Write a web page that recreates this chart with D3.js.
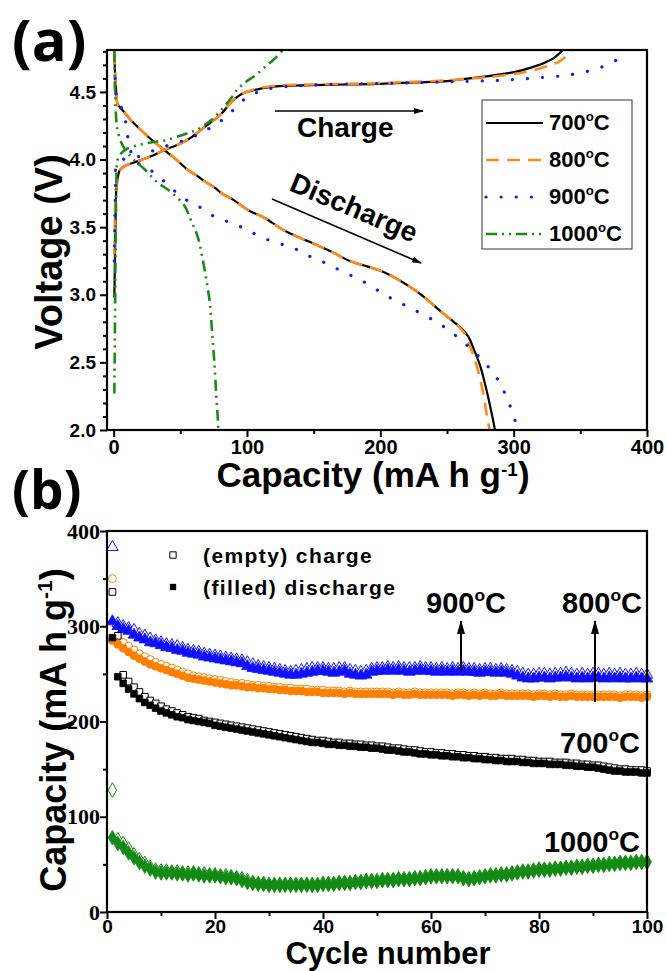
<!DOCTYPE html>
<html>
<head>
<meta charset="utf-8">
<script src="https://cdn.jsdelivr.net/npm/d3@7"></script>
<style>
body { margin: 0; background: #fff; }
svg { display: block; }
</style>
</head>
<body>
<svg></svg>
<script>
// SVG
var width = 667;
var height = 971;
var sans = "'Liberation Sans', Arial, sans-serif";
var serif = "'Liberation Serif', 'Times New Roman', serif";

// ---------- Panel (a) data: [capacity, voltage] ----------
var temps = ["700", "800", "900", "1000"];

var charge700 = [[0.5,2.98],[1,3.3],[1.5,3.6],[2,3.78],[3,3.86],[4.5,3.92],[8,3.95],[16,3.98],[27,4.02],[38,4.07],[48,4.11],[56,4.15],[63,4.2],[68,4.24],[75,4.29],[81,4.34],[86,4.4],[91,4.45],[97,4.49],[104,4.51],[113,4.53],[127,4.545],[150,4.55],[175,4.555],[200,4.56],[225,4.57],[250,4.58],[262,4.595],[275,4.61],[290,4.63],[302,4.65],[313,4.68],[322,4.71],[330,4.75],[338,4.82]];
var charge800 = [[0.5,3.3],[1,3.6],[1.5,3.75],[2.5,3.85],[4,3.91],[8,3.95],[16,3.98],[27,4.02],[38,4.07],[48,4.11],[56,4.15],[63,4.2],[68,4.24],[75,4.29],[81,4.34],[86,4.4],[91,4.45],[97,4.49],[104,4.515],[113,4.535],[127,4.55],[150,4.555],[175,4.56],[200,4.565],[225,4.575],[250,4.585],[262,4.595],[275,4.605],[290,4.62],[305,4.64],[322,4.68],[335,4.73],[345,4.82]];
var charge900 = [[0.5,3.25],[1,3.6],[1.5,3.85],[2,3.96],[5,3.99],[10,4.01],[18,4.02],[26,4.05],[33,4.08],[46,4.12],[58,4.16],[68,4.21],[75,4.25],[81,4.29],[87,4.34],[93,4.4],[100,4.46],[106,4.49],[115,4.52],[130,4.54],[160,4.555],[212,4.565],[250,4.575],[287,4.585],[312,4.6],[337,4.62],[350,4.64],[362,4.67],[370,4.7],[378,4.74]];
var charge1000 = [[0.5,2.27],[1,2.8],[1.5,3.4],[2,3.8],[3,4.0],[6,4.05],[10,4.08],[20,4.11],[30,4.13],[38,4.14],[51,4.18],[60,4.21],[66,4.24],[73,4.29],[80,4.36],[87,4.44],[93,4.52],[100,4.58],[106,4.62],[113,4.68],[120,4.74],[128,4.82]];

var discharge700 = [[0.5,4.8],[1,4.65],[1.8,4.52],[3,4.41],[8,4.35],[13,4.29],[18,4.24],[28,4.15],[38,4.07],[47,4.0],[56,3.92],[61,3.89],[68,3.84],[76,3.79],[81,3.75],[90,3.7],[102,3.62],[113,3.57],[127,3.48],[140,3.42],[152,3.37],[165,3.31],[177,3.25],[190,3.21],[202,3.17],[212,3.12],[222,3.06],[232,2.99],[245,2.88],[255,2.8],[262,2.74],[266,2.69],[270,2.6],[275,2.47],[280,2.28],[284,2.1],[286,2.0]];
var discharge800 = [[0.5,4.8],[1,4.65],[1.8,4.52],[3,4.41],[8,4.35],[13,4.29],[18,4.24],[28,4.15],[38,4.07],[47,4.0],[56,3.92],[61,3.89],[68,3.84],[76,3.79],[81,3.75],[90,3.7],[102,3.62],[113,3.57],[127,3.48],[140,3.42],[152,3.37],[165,3.31],[177,3.25],[190,3.21],[202,3.17],[212,3.12],[222,3.06],[232,2.99],[245,2.88],[255,2.8],[262,2.73],[268,2.6],[273,2.45],[277,2.28],[280,2.1],[282,2.0]];
var discharge900 = [[1,4.6],[2,4.47],[5,4.4],[7,4.36],[9,4.28],[10,4.2],[12,4.1],[15,4.0],[22,3.95],[31,3.9],[42,3.8],[53,3.71],[66,3.64],[77,3.57],[89,3.53],[100,3.48],[112,3.42],[124,3.38],[136,3.34],[148,3.28],[160,3.23],[172,3.17],[185,3.11],[207,2.98],[225,2.89],[242,2.8],[255,2.71],[267,2.61],[278,2.5],[287,2.39],[293,2.28],[298,2.16],[302,2.04],[303,2.0]];
var discharge1000 = [[0.5,4.8],[0.8,4.6],[1.2,4.45],[2,4.29],[3,4.21],[6,4.12],[9,4.07],[15,4.0],[23,3.93],[33,3.83],[43,3.76],[53,3.66],[58,3.55],[63,3.43],[67,3.25],[70,3.08],[72,2.95],[74,2.7],[75.5,2.5],[77,2.25],[78,2.1],[78.5,2.0]];

var voltTicks = [2.0, 2.5, 3.0, 3.5, 4.0, 4.5];
var capTicks = [0, 100, 200, 300, 400];

// ---------- Panel (b) data: capacity per cycle 1..100 ----------
var cycleTicks = [0, 20, 40, 60, 80, 100];
var cycCapTicks = [0, 100, 200, 300, 400];

var dis900 = [305,300,297,295,291,288,286,283,282,280, 278,277,275,274,272,271,270,268,267,266, 265,264,263,262,261,258,256,255,254,253,
  252,251,250,249,249,250,251,252,253,253, 252,251,252,253,250,249,248,249,252,253, 253,254,253,254,253,252,253,254,253,253,
  252,253,252,253,252,253,252,252,251,252, 252,251,252,251,250,248,246,245,245,246, 246,245,246,246,247,246,245,246,245,246,
  246,245,246,245,246,245,245,246,245,245];
var chg900 = [383,303,300,298,296,292,290,287,285,283, 281,280,279,277,275,274,273,271,270,269, 268,267,266,265,264,262,260,258,257,256,
  255,254,253,252,253,254,255,256,256,256, 255,255,256,256,254,253,252,253,255,256, 256,257,256,257,256,256,256,257,256,256,
  255,256,255,256,255,256,255,255,254,255, 255,254,255,254,253,252,250,249,249,250, 250,249,250,250,251,250,249,250,249,250,
  250,249,250,249,250,249,249,250,249,249];
var dis800 = [285,281,277,273,269,266,263,260,258,256, 254,252,250,248,246,245,244,243,242,241, 240,239,238,238,237,236,236,235,235,234,
  234,233,233,232,232,232,231,231,231,230, 230,230,230,229,230,229,229,229,229,229, 229,229,228,229,228,228,229,228,228,228,
  228,228,228,227,228,228,227,228,227,228, 227,227,228,227,227,227,227,227,226,227, 227,226,227,226,226,227,226,226,226,226,
  226,226,226,226,225,226,226,226,225,226];
var chg800 = [350,287,283,279,275,271,268,265,262,260, 258,256,254,252,250,248,247,246,245,244, 243,242,241,240,240,239,238,238,237,237,
  236,236,235,235,234,234,234,233,233,233, 232,232,232,231,232,231,231,231,231,231, 231,231,230,231,230,230,231,230,230,230,
  230,230,230,229,230,230,229,230,229,230, 229,229,230,229,229,229,229,229,228,229, 229,228,229,228,228,229,228,228,228,228,
  228,228,228,228,227,228,228,228,227,228];
var dis700 = [288,247,240,234,229,224,220,217,214,211, 209,207,205,204,202,201,200,199,198,196, 195,194,193,192,191,190,189,188,187,186,
  185,184,183,182,181,180,179,178,178,177, 176,176,175,175,174,174,173,173,172,172, 171,170,170,169,168,168,167,166,166,165,
  165,164,164,163,163,162,162,161,161,160, 160,159,159,158,158,158,157,157,156,156, 156,155,155,155,154,154,153,153,152,152,
  151,150,149,148,148,147,147,147,146,146];
var chg700 = [336,290,249,242,236,231,226,222,219,216, 213,211,209,207,205,204,203,201,200,199, 198,197,196,195,194,193,192,191,190,189,
  188,187,186,185,184,183,182,181,180,180, 179,178,178,177,177,176,176,175,175,174, 174,173,172,172,171,170,170,169,168,168,
  167,167,166,166,165,165,164,164,163,163, 162,162,161,161,161,160,160,159,159,158, 158,158,157,157,157,156,156,155,155,154,
  154,153,152,151,150,150,149,149,149,148];
var dis1000 = [78,72,68,62,57,52,48,45,42,41, 41,41,40,40,39,40,39,38,38,38, 37,36,36,35,33,31,30,29,29,28,
  28,28,28,28,28,28,28,28,28,29, 29,29,30,30,30,31,31,32,32,32, 33,33,33,34,34,34,35,35,36,37,
  37,37,37,37,37,35,34,35,36,37, 38,38,39,39,40,41,42,42,43,44, 44,44,45,45,46,46,47,47,48,48,
  49,49,50,50,51,51,51,52,52,52];
var chg1000 = [128,76,72,66,60,55,51,47,44,43, 43,42,42,41,41,41,40,40,39,39, 38,38,37,36,35,33,31,30,30,29,
  29,29,29,29,29,29,29,29,29,30, 30,30,31,31,31,32,32,33,33,33, 34,34,34,35,35,35,36,36,37,38,
  38,38,38,38,38,36,35,36,37,38, 39,39,40,40,41,42,43,43,44,45, 45,45,46,46,47,47,48,48,49,49,
  50,50,51,51,52,52,52,53,53,53];

var svg = d3.select("svg")
    .attr("width", width)
    .attr("height", height)
    .style("font-family", sans);

var defs = svg.append("defs");
defs.append("marker")
    .attr("id", "headA")
    .attr("markerUnits", "userSpaceOnUse")
    .attr("markerWidth", 10).attr("markerHeight", 8)
    .attr("refX", 9).attr("refY", 4)
    .attr("orient", "auto")
    .append("path").attr("d", "M0,1 L10,4 L0,7 Z").attr("fill", "#000");
defs.append("marker")
    .attr("id", "headB")
    .attr("markerUnits", "userSpaceOnUse")
    .attr("markerWidth", 14).attr("markerHeight", 10)
    .attr("refX", 13).attr("refY", 5)
    .attr("orient", "auto")
    .append("path").attr("d", "M0,1 L14,5 L0,9 Z").attr("fill", "#000");

function degLabel(sel, num, size) {
    sel.append("tspan").text(num);
    sel.append("tspan").attr("font-size", size * 0.6).attr("dy", -size * 0.42).text("o");
    sel.append("tspan").attr("dy", size * 0.42).text("C");
}

// ================= Panel (a) =================
var ax = {left: 107, right: 647, top: 50, bottom: 430};
var xA = d3.scaleLinear().domain([-5, 400]).range([ax.left, ax.right]);
var yA = d3.scaleLinear().domain([2.0, 4.81]).range([ax.bottom, ax.top]);

defs.append("clipPath").attr("id", "clipA")
    .append("rect").attr("x", ax.left).attr("y", ax.top)
    .attr("width", ax.right - ax.left).attr("height", ax.bottom - ax.top);

var gA = svg.append("g");

var minorV = d3.range(2.0, 4.81, 0.1).filter(v => Math.abs(v * 2 - Math.round(v * 2)) > 0.01);
gA.append("g").attr("transform", "translate(" + ax.left + ",0)")
    .call(d3.axisLeft(yA).tickValues(minorV).tickSize(4).tickFormat(""));
gA.append("g").attr("class", "ya").attr("transform", "translate(" + ax.left + ",0)")
    .call(d3.axisLeft(yA).tickValues(voltTicks).tickSize(7).tickPadding(4).tickFormat(d3.format(".1f")));
gA.append("g").attr("transform", "translate(0," + ax.bottom + ")")
    .call(d3.axisBottom(xA).tickValues([50, 150, 250, 350]).tickSize(4).tickFormat(""));
gA.append("g").attr("class", "xa").attr("transform", "translate(0," + ax.bottom + ")")
    .call(d3.axisBottom(xA).tickValues(capTicks).tickSize(7).tickPadding(3));

gA.selectAll(".domain").remove();
gA.selectAll(".tick line").attr("stroke", "#000").attr("stroke-width", 2);
gA.selectAll(".tick text").attr("font-family", sans).attr("font-weight", "bold").attr("fill", "#000");
gA.selectAll(".ya .tick text").attr("font-size", 19);
gA.selectAll(".xa .tick text").attr("font-size", 20);

var line = d3.line()
    .x(d => xA(d[0]))
    .y(d => yA(d[1]))
    .curve(d3.curveCatmullRom.alpha(0.5));

var curveStyles = {
    "700": {color: "#000000", width: 2.2, dash: null, cap: "butt"},
    "800": {color: "#ff8a1a", width: 2.6, dash: "13,8", cap: "butt"},
    "900": {color: "#1a1ae6", width: 3.2, dash: "0.1,15", cap: "round"},
    "1000": {color: "#1a8a1a", width: 2.6, dash: "11,5,2,5,2,5", cap: "butt"}
};
var curveData = {
    "700": [charge700, discharge700],
    "800": [charge800, discharge800],
    "900": [charge900, discharge900],
    "1000": [charge1000, discharge1000]
};

var curves = gA.append("g").attr("clip-path", "url(#clipA)");
temps.forEach(function(t) {
    var s = curveStyles[t];
    curveData[t].forEach(function(d) {
        curves.append("path")
            .attr("fill", "none")
            .attr("stroke", s.color)
            .attr("stroke-width", s.width)
            .attr("stroke-dasharray", s.dash)
            .attr("stroke-linecap", s.cap)
            .attr("d", line(d));
    });
});

gA.append("rect")
    .attr("x", ax.left).attr("y", ax.top)
    .attr("width", ax.right - ax.left).attr("height", ax.bottom - ax.top)
    .attr("fill", "none").attr("stroke", "#000").attr("stroke-width", 2.2);

// legend (a)
var legA = gA.append("g");
legA.append("rect").attr("x", 482).attr("y", 100).attr("width", 150).attr("height", 149)
    .attr("fill", "#fff").attr("stroke", "#555").attr("stroke-width", 1.2);
temps.forEach(function(t, i) {
    var s = curveStyles[t];
    var yy = 123 + i * 37;
    legA.append("line").attr("x1", 486).attr("x2", 543).attr("y1", yy).attr("y2", yy)
        .attr("stroke", s.color).attr("stroke-width", s.width)
        .attr("stroke-dasharray", s.dash).attr("stroke-linecap", s.cap);
    var tx = legA.append("text").attr("x", 549).attr("y", yy + 7)
        .attr("font-size", 22).attr("font-weight", "bold");
    degLabel(tx, t, 22);
});

// annotations (a)
gA.append("line").attr("x1", 275).attr("y1", 111).attr("x2", 423).attr("y2", 111)
    .attr("stroke", "#000").attr("stroke-width", 1.6).attr("marker-end", "url(#headA)");
gA.append("text").attr("x", 297).attr("y", 137).attr("font-size", 28).attr("font-weight", "bold").text("Charge");
gA.append("line").attr("x1", 272).attr("y1", 199).attr("x2", 421).attr("y2", 263)
    .attr("stroke", "#000").attr("stroke-width", 1.6).attr("marker-end", "url(#headA)");
gA.append("text").attr("transform", "translate(288,190) rotate(23)")
    .attr("font-size", 28).attr("font-weight", "bold").text("Discharge");

gA.append("text").attr("x", 12).attr("y", 61).attr("font-size", 58).attr("font-weight", "bold")
    .attr("font-family", "'Open Sans', " + sans).text("(a)");
gA.append("text").attr("transform", "translate(62,252) rotate(-90)").attr("text-anchor", "middle")
    .attr("font-size", 38).attr("font-weight", "bold").text("Voltage (V)");
var capTitleA = gA.append("text").attr("x", 373).attr("y", 487).attr("text-anchor", "middle")
    .attr("font-size", 35).attr("font-weight", "bold");
capTitleA.append("tspan").text("Capacity (mA h g");
capTitleA.append("tspan").attr("font-size", 19).attr("dy", -11).text("-1");
capTitleA.append("tspan").attr("dy", 11).text(")");

// ================= Panel (b) =================
var bx = {left: 107, right: 647, top: 531, bottom: 912};
var xB = d3.scaleLinear().domain([0, 100]).range([bx.left, bx.right]);
var yB = d3.scaleLinear().domain([0, 400]).range([bx.bottom, bx.top]);

var gB = svg.append("g");
gB.append("g").attr("transform", "translate(" + bx.left + ",0)")
    .call(d3.axisLeft(yB).tickValues([50, 150, 250, 350]).tickSize(4).tickFormat(""));
gB.append("g").attr("class", "yb").attr("transform", "translate(" + bx.left + ",0)")
    .call(d3.axisLeft(yB).tickValues(cycCapTicks).tickSize(7).tickPadding(0));
gB.append("g").attr("transform", "translate(0," + bx.bottom + ")")
    .call(d3.axisBottom(xB).tickValues([10, 30, 50, 70, 90]).tickSize(4).tickFormat(""));
gB.append("g").attr("class", "xb").attr("transform", "translate(0," + bx.bottom + ")")
    .call(d3.axisBottom(xB).tickValues(cycleTicks).tickSize(7).tickPadding(1));

gB.selectAll(".domain").remove();
gB.selectAll(".tick line").attr("stroke", "#000").attr("stroke-width", 2);
gB.selectAll(".yb .tick text").attr("font-family", serif).attr("font-weight", "bold")
    .attr("font-size", 22).attr("fill", "#000");
gB.selectAll(".xb .tick text").attr("font-family", sans).attr("font-weight", "bold")
    .attr("font-size", 19).attr("fill", "#000");

var cycSeries = [
    {t: "900", color: "#1010ff", type: d3.symbolTriangle, size: 58, dis: dis900, chg: chg900},
    {t: "800", color: "#ff8000", type: d3.symbolCircle, size: 50, dis: dis800, chg: chg800},
    {t: "700", color: "#000000", type: d3.symbolSquare, size: 44, dis: dis700, chg: chg700},
    {t: "1000", color: "#138a13", type: d3.symbolDiamond, size: 62, dis: dis1000, chg: chg1000}
];

// empty (charge) markers first, filled (discharge) markers drawn over them
var marks = gB.append("g");
cycSeries.forEach(function(s) {
    var sym = d3.symbol().type(s.type).size(s.size);
    marks.append("g").selectAll("path").data(s.chg).enter().append("path")
        .attr("transform", (d, i) => "translate(" + xB(i + 1) + "," + yB(d) + ")")
        .attr("d", sym)
        .attr("fill", "#fff").attr("stroke", s.color).attr("stroke-width", 1);
    marks.append("g").selectAll("path").data(s.dis).enter().append("path")
        .attr("transform", (d, i) => "translate(" + xB(i + 1) + "," + yB(d) + ")")
        .attr("d", sym)
        .attr("fill", s.color).attr("stroke", s.color).attr("stroke-width", 0.8);
});

gB.append("rect")
    .attr("x", bx.left).attr("y", bx.top)
    .attr("width", bx.right - bx.left).attr("height", bx.bottom - bx.top)
    .attr("fill", "none").attr("stroke", "#000").attr("stroke-width", 2.2);

// legend (b)
var sq = d3.symbol().type(d3.symbolSquare).size(40);
gB.append("path").attr("transform", "translate(173,555)").attr("d", sq)
    .attr("fill", "#fff").attr("stroke", "#000").attr("stroke-width", 1);
gB.append("path").attr("transform", "translate(173,587)").attr("d", sq).attr("fill", "#000");
gB.append("text").attr("x", 203).attr("y", 563).attr("font-size", 21).attr("font-weight", "bold")
    .attr("letter-spacing", 1.4).text("(empty) charge");
gB.append("text").attr("x", 203).attr("y", 595).attr("font-size", 21).attr("font-weight", "bold")
    .attr("letter-spacing", 1.4).text("(filled) discharge");

// temperature labels and arrows (b)
var t900 = gB.append("text").attr("x", 466).attr("y", 613).attr("text-anchor", "middle")
    .attr("font-size", 29).attr("font-weight", "bold");
degLabel(t900, "900", 29);
var t800 = gB.append("text").attr("x", 602).attr("y", 613).attr("text-anchor", "middle")
    .attr("font-size", 29).attr("font-weight", "bold");
degLabel(t800, "800", 29);
var t700 = gB.append("text").attr("x", 640).attr("y", 753).attr("text-anchor", "end")
    .attr("font-size", 29).attr("font-weight", "bold");
degLabel(t700, "700", 29);
var t1000 = gB.append("text").attr("x", 640).attr("y", 852).attr("text-anchor", "end")
    .attr("font-size", 29).attr("font-weight", "bold");
degLabel(t1000, "1000", 29);

gB.append("line").attr("x1", 461).attr("y1", 671).attr("x2", 461).attr("y2", 621)
    .attr("stroke", "#000").attr("stroke-width", 2).attr("marker-end", "url(#headB)");
gB.append("line").attr("x1", 595).attr("y1", 702).attr("x2", 595).attr("y2", 621)
    .attr("stroke", "#000").attr("stroke-width", 2).attr("marker-end", "url(#headB)");

gB.append("text").attr("x", 12).attr("y", 509).attr("font-size", 53).attr("font-weight", "bold")
    .attr("font-family", "'Open Sans', " + sans).text("(b)");
var capTitleB = gB.append("text").attr("transform", "translate(66,730) rotate(-90)").attr("text-anchor", "middle")
    .attr("font-size", 36).attr("font-weight", "bold");
capTitleB.append("tspan").text("Capacity (mA h g");
capTitleB.append("tspan").attr("font-size", 21).attr("dy", -14).text("-1");
capTitleB.append("tspan").attr("dy", 14).text(")");
gB.append("text").attr("x", 388).attr("y", 964).attr("text-anchor", "middle")
    .attr("font-size", 31).attr("font-weight", "bold").text("Cycle number");
</script>
</body>
</html>
